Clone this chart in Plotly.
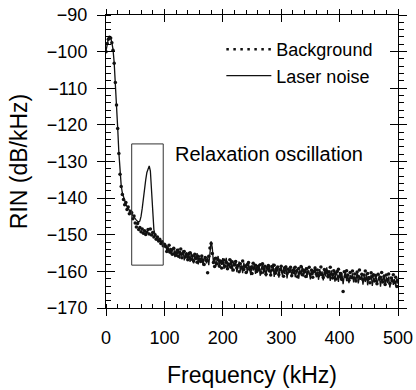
import plotly.graph_objects as go

# ---------------- data ----------------
freq_khz = list(range(0, 501, 2))

background_db = [
    # 0 .. 100 step 2
    -100.0, -97.8, -96.6, -96.1, -96.3, -97.6, -99.6, -103.2, -108.4, -114.6,
    -121.0, -127.8, -133.5, -136.8, -139.0, -140.4, -141.8, -141.2, -143.1, -142.4,
    -144.3, -143.6, -144.0, -145.6, -144.9, -146.8, -147.9, -146.9, -148.6, -148.0,
    -149.2, -148.4, -149.6, -148.9, -149.9, -149.3, -148.6, -149.8, -148.4, -150.1,
    -149.4, -150.6, -150.0, -151.2, -150.6, -151.7, -151.2, -152.4, -151.9, -153.0,
    -152.6,
    # 102 .. 500 step 2
    -153.2, -154.6, -153.9, -152.9, -154.8, -154.1, -155.3, -153.7, -154.9, -155.6,
    -154.2, -155.9, -154.8, -153.9, -156.3, -155.0, -154.6, -156.1, -155.4, -156.8,
    -155.1, -154.9, -156.7, -155.8, -157.2, -155.3, -156.4, -157.5, -155.9, -156.6,
    -157.3, -155.8, -156.9, -158.1, -156.2, -157.0, -160.4, -155.9, -153.6, -152.4,
    -155.1, -157.6, -158.7, -156.4, -157.9, -156.8, -158.5, -157.2, -159.1, -157.7,
    -156.9, -158.6, -157.5, -159.3, -158.0, -156.8, -158.9, -157.4, -159.6, -158.2,
    -157.3, -159.0, -158.4, -160.1, -157.9, -158.8, -157.2, -159.5, -158.6, -160.3,
    -158.1, -157.6, -159.4, -158.9, -160.6, -157.8, -159.1, -158.3, -160.0, -158.7,
    -159.5, -158.2, -160.4, -157.9, -159.3, -158.6, -160.8, -159.0, -158.4, -159.9,
    -161.0, -158.7, -159.6, -158.3, -160.5, -159.2, -158.8, -160.9, -159.5, -158.6,
    -160.2, -161.3, -159.0, -158.8, -160.6, -159.4, -160.0, -158.9, -161.2, -159.7,
    -160.4, -158.9, -159.8, -161.5, -159.2, -160.3, -158.7, -160.9, -159.6, -160.1,
    -161.4, -159.3, -160.2, -158.9, -160.8, -159.7, -161.6, -160.0, -159.1, -160.7,
    -159.6, -161.2, -160.4, -158.8, -160.9, -161.7, -159.5, -160.3, -159.9, -161.4,
    -160.1, -158.9, -160.7, -161.8, -159.8, -160.5, -162.1, -160.0, -159.4, -161.3,
    -160.6, -162.2, -165.5, -160.1, -161.4, -159.8, -161.0, -162.4, -160.3, -161.6,
    -159.9, -161.8, -160.7, -162.6, -160.2, -161.3, -159.6, -161.9, -160.8, -162.3,
    -161.0, -159.9, -162.0, -160.6, -161.7, -163.1, -160.4, -161.5, -160.9, -162.6,
    -161.2, -163.4, -160.8, -162.1, -161.6, -160.3, -162.9, -161.4, -163.6, -161.0,
    -162.2, -160.7, -163.3, -161.8, -162.5, -160.9, -163.0, -161.6, -164.1, -162.4,
]

laser_db = [
    # 0 .. 100 step 2
    -99.8, -97.6, -96.5, -96.0, -96.2, -97.5, -99.4, -103.0, -108.2, -114.4,
    -120.8, -127.5, -133.2, -136.5, -138.6, -139.8, -140.8, -141.6, -142.3, -142.9,
    -143.3, -143.9, -144.3, -144.8, -145.3, -145.6, -146.0, -146.3, -146.6, -146.2,
    -145.0, -142.8, -139.8, -137.2, -135.0, -133.0, -131.8, -131.2, -132.6, -137.5,
    -144.8, -148.6, -150.0, -150.4, -150.9, -151.4, -151.0, -152.2, -151.8, -152.6,
    -153.1,
    # 102 .. 500 step 2
    -152.5, -154.3, -153.1, -155.0, -153.6, -155.6, -154.0, -153.4, -156.1, -154.5,
    -155.4, -153.8, -156.5, -154.7, -155.9, -154.2, -157.0, -155.3, -154.8, -156.9,
    -155.2, -157.4, -154.9, -156.2, -157.8, -155.5, -156.9, -155.0, -158.1, -156.3,
    -157.2, -155.6, -158.4, -156.7, -155.9, -157.8, -156.2, -158.3, -154.0, -151.8,
    -153.5, -157.9, -156.1, -158.6, -157.0, -155.8, -159.0, -156.9, -158.2, -156.4,
    -159.3, -157.1, -156.3, -159.6, -157.8, -158.9, -156.7, -160.0, -157.5, -158.6,
    -156.9, -160.2, -158.1, -157.3, -159.9, -158.4, -160.5, -157.6, -159.2, -158.0,
    -160.4, -157.7, -159.5, -161.0, -158.2, -159.8, -157.9, -160.7, -158.8, -160.1,
    -158.0, -161.2, -159.3, -157.8, -160.6, -159.0, -161.4, -158.5, -160.0, -158.3,
    -160.8, -159.4, -157.9, -161.5, -159.1, -160.3, -158.6, -161.7, -159.5, -158.8,
    -161.2, -159.0, -160.7, -158.4, -161.9, -159.6, -160.4, -158.9, -161.1, -159.8,
    -158.7, -161.6, -160.0, -159.2, -162.0, -159.5, -160.9, -158.6, -161.4, -160.2,
    -158.9, -161.8, -159.7, -160.5, -162.2, -159.3, -161.0, -159.9, -158.7, -161.6,
    -160.1, -162.3, -159.4, -161.2, -160.0, -162.5, -159.6, -161.4, -158.9, -161.9,
    -160.3, -162.6, -159.7, -161.5, -160.4, -162.8, -159.9, -161.1, -162.9, -160.2,
    -162.4, -160.6, -163.5, -161.2, -159.8, -162.7, -160.9, -163.2, -161.0, -162.1,
    -160.5, -163.0, -161.4, -162.6, -160.2, -163.3, -161.6, -162.2, -160.8, -163.6,
    -161.3, -162.9, -160.6, -163.8, -161.5, -162.4, -160.9, -164.0, -161.8, -162.7,
    -160.7, -163.5, -162.0, -161.1, -164.2, -161.9, -162.8, -160.8, -163.9, -161.6,
    -163.2, -161.4, -164.4, -162.3, -161.5, -163.7, -162.1, -164.0, -161.9, -163.4,
]

series_names = ["Background", "Laser noise"]
annotation_text = "Relaxation oscillation"
x_title = "Frequency (kHz)"
y_title = "RIN (dB/kHz)"

# highlight box around the relaxation oscillation peak (kHz, dB)
box_x = [44, 98]
box_y = [-158.3, -125.2]
label_pos = [115, -128]

x_range = [0, 500]
y_range = [-170, -90]

FONT = "Liberation Sans, Arial, sans-serif"
INK = "#111111"

fig = go.Figure()

# legend-only entry for the dotted background series
fig.add_trace(go.Scatter(
    x=[None], y=[None], mode="lines", name=series_names[0],
    line=dict(color=INK, width=2.5, dash="2.5px,4.5px"),
))
fig.add_trace(go.Scatter(
    x=freq_khz, y=background_db, mode="markers", name=series_names[0],
    marker=dict(color=INK, size=3.5), showlegend=False,
))
fig.add_trace(go.Scatter(
    x=freq_khz, y=laser_db, mode="lines", name=series_names[1],
    line=dict(color=INK, width=1.3),
))

# dummy traces so overlay axes (used for crossing / mirrored ticks) are drawn
for k in ("2", "3", "4"):
    fig.add_trace(go.Scatter(x=[None], y=[None], xaxis="x" + k, yaxis="y" + k,
                             showlegend=False, hoverinfo="skip"))

common = dict(showgrid=False, zeroline=False, fixedrange=True, automargin=False,
              tickcolor="black", tickwidth=1, linecolor="black", linewidth=1)

fig.update_layout(
    width=416, height=390,
    margin=dict(l=106, r=18, t=15, b=82),
    paper_bgcolor="white", plot_bgcolor="white",
    font=dict(family=FONT, color="black", size=18),
    showlegend=True,
    legend=dict(x=0.395, y=0.945, xanchor="left", yanchor="top",
                bgcolor="rgba(0,0,0,0)", font=dict(size=18, family=FONT),
                itemwidth=45, tracegroupgap=0),
    xaxis=dict(range=x_range, side="bottom", anchor="y", showline=True,
               ticks="outside", ticklen=7, dtick=100, tick0=0,
               minor=dict(ticks="inside", ticklen=4, dtick=20, tickcolor="black"),
               tickfont=dict(size=18, family=FONT), ticklabelstandoff=6,
               title=dict(text=x_title, font=dict(size=23, family=FONT), standoff=20),
               **common),
    xaxis2=dict(range=x_range, overlaying="x", side="bottom", anchor="y",
                showline=False, ticks="inside", ticklen=7, dtick=100, tick0=0,
                showticklabels=False, **common),
    xaxis3=dict(range=x_range, overlaying="x", side="top", anchor="y",
                showline=True, ticks="outside", ticklen=5, dtick=100, tick0=0,
                minor=dict(ticks="outside", ticklen=4, dtick=20, tickcolor="black"),
                showticklabels=False, **common),
    xaxis4=dict(range=x_range, overlaying="x", side="top", anchor="y",
                showline=False, ticks="inside", ticklen=7, dtick=100, tick0=0,
                showticklabels=False, **common),
    yaxis=dict(range=y_range, side="left", anchor="x", showline=True,
               ticks="outside", ticklen=8, dtick=10, tick0=-170,
               minor=dict(ticks="inside", ticklen=5, dtick=2, tickcolor="black"),
               tickfont=dict(size=18, family=FONT), ticklabelstandoff=6,
               title=dict(text=y_title, font=dict(size=23, family=FONT), standoff=12),
               **common),
    yaxis2=dict(range=y_range, overlaying="y", side="left", anchor="x",
                showline=False, ticks="inside", ticklen=9, dtick=10, tick0=-170,
                showticklabels=False, **common),
    yaxis3=dict(range=y_range, overlaying="y", side="right", anchor="x",
                showline=True, ticks="outside", ticklen=8, dtick=10, tick0=-170,
                minor=dict(ticks="outside", ticklen=5, dtick=2, tickcolor="black"),
                showticklabels=False, **common),
    yaxis4=dict(range=y_range, overlaying="y", side="right", anchor="x",
                showline=False, ticks="inside", ticklen=8, dtick=10, tick0=-170,
                showticklabels=False, **common),
)

fig.add_shape(type="rect", xref="x", yref="y",
              x0=box_x[0], x1=box_x[1], y0=box_y[0], y1=box_y[1],
              line=dict(color="#333333", width=1))

fig.add_annotation(x=label_pos[0], y=label_pos[1], xref="x", yref="y",
                   text=annotation_text, showarrow=False,
                   xanchor="left", yanchor="middle",
                   font=dict(size=20, family=FONT, color="black"))

fig.write_html("out.html",
               config={"displayModeBar": False, "staticPlot": True},
               post_script="document.body.style.margin='0px';"
                           "document.body.style.padding='0px';")
